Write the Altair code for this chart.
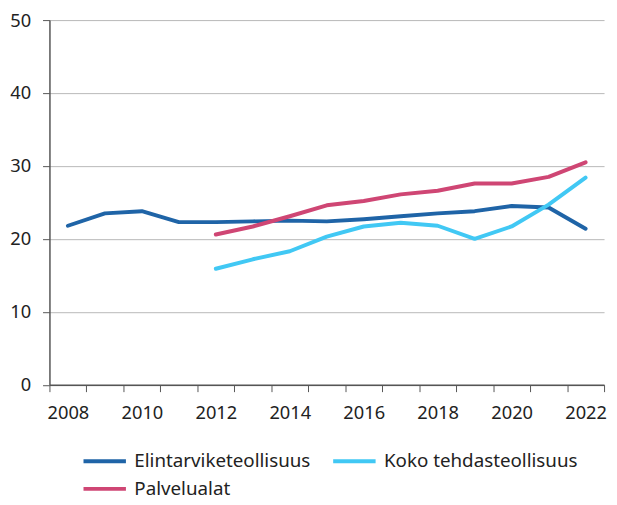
import altair as alt
import pandas as pd

years = list(range(2008, 2023))
series_names = ["Elintarviketeollisuus", "Koko tehdasteollisuus", "Palvelualat"]
elintarvike = [21.8, 23.5, 23.8, 22.3, 22.3, 22.4, 22.5, 22.4, 22.7, 23.1, 23.5, 23.8, 24.5, 24.3, 21.4]
koko = [None, None, None, None, 15.9, 17.2, 18.3, 20.3, 21.7, 22.2, 21.8, 20.0, 21.7, 24.7, 28.4]
palvelu = [None, None, None, None, 20.6, 21.7, 23.1, 24.6, 25.2, 26.1, 26.6, 27.6, 27.6, 28.5, 30.5]
colors = ["#1f64a7", "#41c8f4", "#cf4674"]

rows = []
for name, vals in zip(series_names, [elintarvike, koko, palvelu]):
    for y, v in zip(years, vals):
        if v is not None:
            rows.append({"year": str(y), "value": v, "series": name})
df = pd.DataFrame(rows)

FONT = "Noto Sans"
FS = 18.5

chart = alt.Chart(df).mark_line(strokeWidth=4, strokeCap="round", strokeJoin="round").encode(
    x=alt.X("year:O",
            scale=alt.Scale(type="band", domain=[str(y) for y in years], paddingInner=0, paddingOuter=0),
            axis=alt.Axis(title=None, labelAngle=0, tickBand="extent", grid=False,
                          labelExpr="toNumber(datum.value) % 2 == 0 ? datum.label : ''",
                          labelFontSize=FS, labelColor="#222222", labelFont=FONT,
                          tickSize=7, tickColor="#555555", domainColor="#555555",
                          labelPadding=12)),
    y=alt.Y("value:Q",
            scale=alt.Scale(domain=[0, 50]),
            axis=alt.Axis(title=None, values=[0, 10, 20, 30, 40, 50], grid=True,
                          gridColor="#b8b8b8", gridWidth=1,
                          labelFontSize=FS, labelColor="#222222", labelFont=FONT,
                          tickSize=7, tickColor="#555555", domainColor="#555555",
                          labelPadding=12)),
    color=alt.Color("series:N",
                    scale=alt.Scale(domain=series_names, range=colors),
                    legend=alt.Legend(title=None, orient="none", legendX=43, legendY=434,
                                      direction="horizontal",
                                      columns=2, symbolType="M-2,0H2", symbolSize=462,
                                      symbolStrokeWidth=4, labelFontSize=19, labelFont=FONT,
                                      labelColor="#222222", labelLimit=400, columnPadding=14,
                                      rowPadding=5, padding=0, labelOffset=17)),
).properties(
    width=562, height=369.5,
    autosize=alt.AutoSizeParams(type="none"),
    padding={"left": 42, "top": 9, "right": 5, "bottom": 110},
).configure_view(stroke=None).configure_axis(domainWidth=1.5)

chart.save("out.html", embed_options={"renderer": "svg", "actions": False})
